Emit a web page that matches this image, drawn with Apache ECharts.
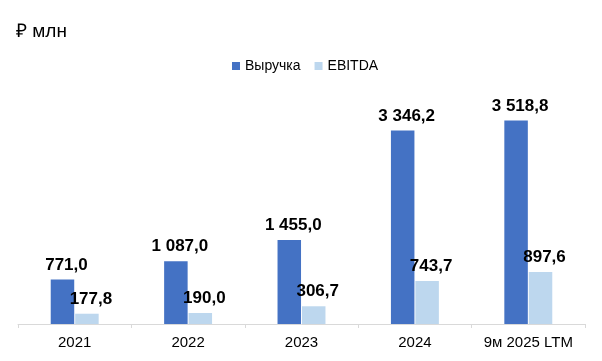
<!DOCTYPE html>
<html><head><meta charset="utf-8">
<script src="https://cdn.jsdelivr.net/npm/echarts@6/dist/echarts.min.js"></script>
<style>html,body{margin:0;padding:0;background:#fff}#c{width:602px;height:361px}</style>
</head><body><div id="c"></div>
<script>
const categories = ['2021', '2022', '2023', '2024', '9м 2025 LTM'];
const revenue = [771.0, 1087.0, 1455.0, 3346.2, 3518.8];
const ebitda = [177.8, 190.0, 306.7, 743.7, 897.6];
const seriesNames = ['Выручка', 'EBITDA'];
const unitTitle = '₽ млн';

function fmt(v) {
  const s = v.toFixed(1).split('.');
  const int = s[0].replace(/\B(?=(\d{3})+(?!\d))/g, ' ');
  return int + ',' + s[1];
}
const FONT = '"Liberation Sans", Arial, sans-serif';
const chart = echarts.init(document.getElementById('c'), null, {renderer: 'canvas'});
const labelCfg = {
  show: true, position: 'top', distance: 6, offset: [4, 0],
  formatter: p => fmt(p.value),
  fontFamily: FONT, fontSize: 17, fontWeight: 'bold', color: '#000'
};
chart.setOption({
  animation: false,
  title: {
    text: unitTitle, left: 11, top: 17,
    textStyle: {fontFamily: FONT, fontSize: 19, fontWeight: 'normal', color: '#000'}
  },
  legend: {
    data: seriesNames, left: 227, top: 54, itemWidth: 8, itemHeight: 8, itemGap: 14,
    icon: 'rect',
    textStyle: {fontFamily: FONT, fontSize: 14, color: '#000'}
  },
  grid: {left: 18, right: 17, top: 35, bottom: 37, containLabel: false},
  xAxis: {
    type: 'category', data: categories,
    axisLine: {lineStyle: {color: '#d9d9d9', width: 1}},
    axisTick: {show: true, length: 4, lineStyle: {color: '#d9d9d9'}},
    axisLabel: {interval: 0, hideOverlap: false, fontFamily: FONT, fontSize: 15, color: '#000', margin: 11}
  },
  yAxis: {type: 'value', min: 0, max: 5000, show: false, splitLine: {show: false}},
  series: [
    {name: seriesNames[0], type: 'bar', data: revenue, barWidth: 23.5, barGap: '4%',
     itemStyle: {color: '#4472C4'}, label: labelCfg},
    {name: seriesNames[1], type: 'bar', data: ebitda, barWidth: 23.5,
     itemStyle: {color: '#BDD7EE'}, label: labelCfg}
  ]
});
</script></body></html>
